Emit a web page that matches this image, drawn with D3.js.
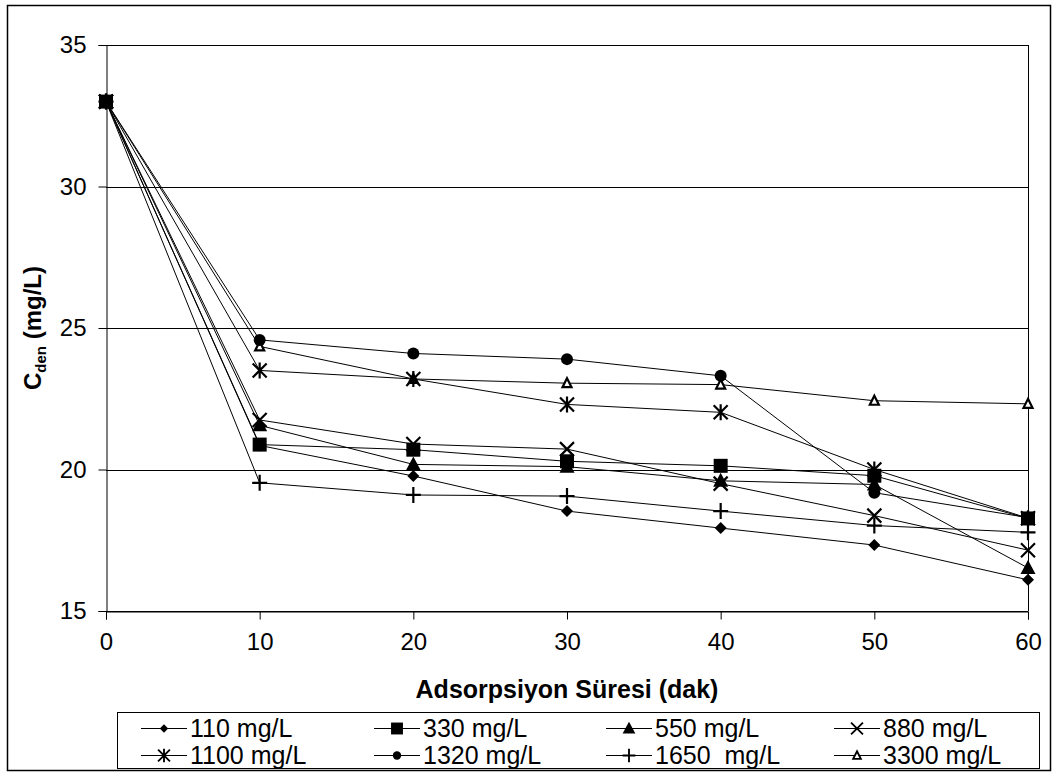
<!DOCTYPE html>
<html>
<head>
<meta charset="utf-8">
<script src="https://cdn.jsdelivr.net/npm/d3@7"></script>
<style>
  body { margin: 0; background: #fff; }
  text { font-family: Arial, "Liberation Sans", sans-serif; fill: #000; }
</style>
</head>
<body>
<div id="chart"></div>
<script>
// data
const times = [0, 10, 20, 30, 40, 50, 60];
const seriesNames = ["110 mg/L", "330 mg/L", "550 mg/L", "880 mg/L", "1100 mg/L", "1320 mg/L", "1650  mg/L", "3300 mg/L"];
const c110 = [33, 20.85, 19.77, 18.53, 17.93, 17.33, 16.10];
const c330 = [33, 20.88, 20.70, 20.29, 20.13, 19.78, 18.27];
const c550 = [33, 21.56, 20.18, 20.10, 19.60, 19.47, 16.52];
const c880 = [33, 21.75, 20.90, 20.72, 19.50, 18.37, 17.15];
const c1100 = [33, 23.50, 23.20, 22.30, 22.02, 20.00, 18.28];
const c1320 = [33, 24.58, 24.10, 23.90, 23.31, 19.18, 18.30];
const c1650 = [33, 19.53, 19.10, 19.06, 18.53, 18.02, 17.78];
const c3300 = [33, 24.35, 23.20, 23.05, 23.00, 22.43, 22.32];
const yTicks = [15, 20, 25, 30, 35];
const xTicks = [0, 10, 20, 30, 40, 50, 60];

const allSeries = [c110, c330, c550, c880, c1100, c1320, c1650, c3300];
const markerKinds = ["diamond", "square", "triangle", "x", "star", "circle", "plus", "opentri"];

const width = 1059, height = 776;
const plot = { left: 106, right: 1028, top: 45, bottom: 611 };

const svg = d3.select("#chart").append("svg")
  .attr("width", width)
  .attr("height", height);

// outer frame
svg.append("rect")
  .attr("x", 7.5).attr("y", 5.5)
  .attr("width", 1043).attr("height", 765)
  .attr("fill", "none").attr("stroke", "#000").attr("stroke-width", 1.5);

const x = d3.scaleLinear().domain([0, 60]).range([plot.left, plot.right]);
const y = d3.scaleLinear().domain([15, 35]).range([plot.bottom, plot.top]);

// gridlines
svg.append("g")
  .selectAll("line")
  .data(yTicks)
  .join("line")
  .attr("x1", plot.left).attr("x2", plot.right)
  .attr("y1", d => Math.round(y(d)) + 0.5).attr("y2", d => Math.round(y(d)) + 0.5)
  .attr("stroke", "#000").attr("stroke-width", 1);

// right edge of plot
svg.append("line")
  .attr("x1", plot.right + 0.5).attr("x2", plot.right + 0.5)
  .attr("y1", plot.top).attr("y2", plot.bottom)
  .attr("stroke", "#000");

// axes
const yAxis = svg.append("g")
  .attr("transform", `translate(${plot.left + 0.5},0)`)
  .call(d3.axisLeft(y).tickValues(yTicks).tickSize(8).tickPadding(12));
const xAxis = svg.append("g")
  .attr("transform", `translate(0,${plot.bottom + 0.5})`)
  .call(d3.axisBottom(x).tickValues(xTicks).tickSize(8).tickPadding(13));

[yAxis, xAxis].forEach(g => {
  g.select(".domain").attr("stroke", "#000");
  g.selectAll(".tick line").attr("stroke", "#000");
  g.selectAll(".tick text")
    .attr("font-size", 24)
    .attr("font-family", "Arial, 'Liberation Sans', sans-serif")
    .attr("fill", "#000");
});

// marker drawing
function drawMarker(g, kind, cx, cy, s) {
  s = s || 1;
  const m = g.append("g").attr("transform", `translate(${cx},${cy}) scale(${s})`);
  if (kind === "diamond") {
    m.append("path").attr("d", "M0,-6L6,0L0,6L-6,0Z").attr("fill", "#000");
  } else if (kind === "square") {
    m.append("rect").attr("x", -7).attr("y", -7).attr("width", 14).attr("height", 14).attr("fill", "#000");
  } else if (kind === "triangle") {
    m.append("path").attr("d", "M0,-8L7.5,6L-7.5,6Z").attr("fill", "#000");
  } else if (kind === "x") {
    m.append("path").attr("d", "M-7,-7L7,7M-7,7L7,-7").attr("stroke", "#000").attr("stroke-width", 2.2).attr("fill", "none");
  } else if (kind === "star") {
    m.append("path").attr("d", "M-7,-7L7,7M-7,7L7,-7M0,-8L0,8").attr("stroke", "#000").attr("stroke-width", 2.2).attr("fill", "none");
  } else if (kind === "circle") {
    m.append("circle").attr("r", 6).attr("fill", "#000");
  } else if (kind === "plus") {
    m.append("path").attr("d", "M-7.5,0L7.5,0M0,-8L0,8").attr("stroke", "#000").attr("stroke-width", 2.2).attr("fill", "none");
  } else if (kind === "opentri") {
    m.append("path").attr("d", "M0,-5L4.5,4L-4.5,4Z").attr("stroke", "#000").attr("stroke-width", 2.2).attr("fill", "#fff");
  }
}

const line = d3.line()
  .x(d => x(d[0]))
  .y(d => y(d[1]));

// first series ends up on top
const plotG = svg.append("g");
d3.range(allSeries.length).reverse().forEach(i => {
  const vals = allSeries[i];
  const pts = times.map((t, j) => [t, vals[j]]);
  plotG.append("path")
    .attr("d", line(pts))
    .attr("fill", "none")
    .attr("stroke", "#000")
    .attr("stroke-width", 1);
  pts.forEach(p => drawMarker(plotG, markerKinds[i], x(p[0]), y(p[1])));
});

// axis titles
svg.append("text")
  .attr("x", (plot.left + plot.right) / 2)
  .attr("y", 698)
  .attr("text-anchor", "middle")
  .attr("font-size", 25)
  .attr("font-weight", "bold")
  .text("Adsorpsiyon Süresi (dak)");

const yTitle = svg.append("text")
  .attr("transform", `translate(41,${(plot.top + plot.bottom) / 2}) rotate(-90)`)
  .attr("text-anchor", "middle")
  .attr("font-size", 24)
  .attr("font-weight", "bold");
yTitle.append("tspan").text("C");
yTitle.append("tspan").attr("font-size", 15).attr("dy", 5).text("den");
yTitle.append("tspan").attr("dy", -5).style("white-space", "pre").text(" (mg/L)");

// legend
const legend = svg.append("g");
legend.append("rect")
  .attr("x", 117.5).attr("y", 712.5)
  .attr("width", 922).attr("height", 56)
  .attr("fill", "#fff").attr("stroke", "#000").attr("stroke-width", 1);

const colX = [141, 374, 606, 834];
const rowY = [728, 755];
const legendScale = [0.7, 0.85, 0.85, 0.85, 0.85, 0.7, 0.85, 0.85];
seriesNames.forEach((name, i) => {
  const lx = colX[i % 4], ly = rowY[Math.floor(i / 4)];
  const item = legend.append("g");
  item.append("line")
    .attr("x1", lx).attr("x2", lx + 46)
    .attr("y1", ly + 0.5).attr("y2", ly + 0.5)
    .attr("stroke", "#000").attr("stroke-width", 1.2);
  drawMarker(item, markerKinds[i], lx + 23, ly + 0.5, legendScale[i]);
  item.append("text")
    .attr("x", lx + 49)
    .attr("y", ly + 9)
    .attr("font-size", 25)
    .style("white-space", "pre")
    .text(name);
});
</script>
</body>
</html>
